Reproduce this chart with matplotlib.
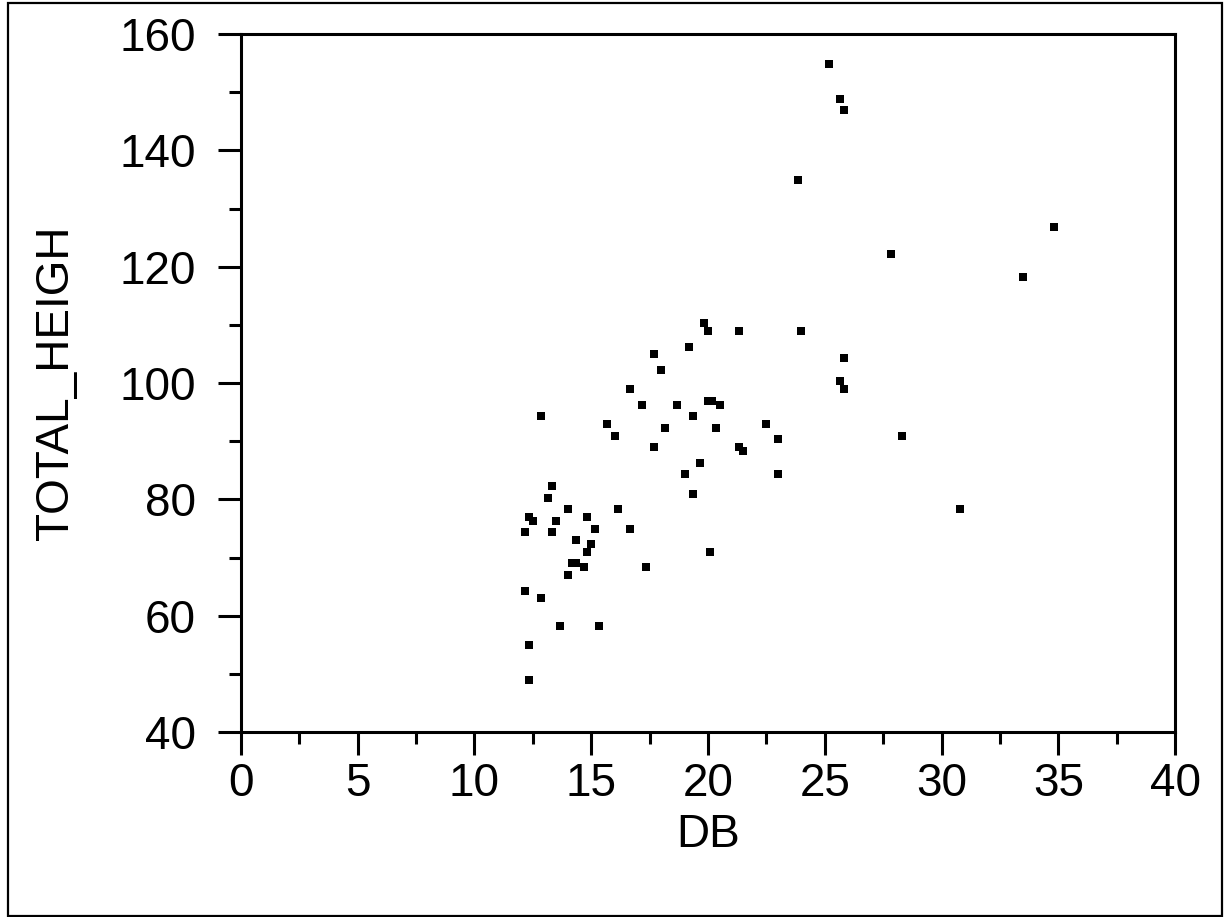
import matplotlib
matplotlib.use('Agg')
import matplotlib.pyplot as plt
from matplotlib.patches import Rectangle
from matplotlib.ticker import MultipleLocator

# DB vs TOTAL_HEIGH
db = [25.18, 25.65, 25.82, 23.85, 34.82, 27.84, 33.49, 19.83, 20.00, 21.33,
      23.98, 19.19, 17.69, 17.99, 25.82, 25.65, 25.82, 16.66, 17.17, 18.67,
      20.00, 20.17, 20.51, 19.36, 15.67, 18.16, 20.34, 22.48, 16.02, 23.00,
      28.31, 17.69, 21.33, 21.50, 19.66, 19.01, 23.00, 19.36, 12.85, 13.32,
      13.15, 14.00, 16.15, 12.33, 12.51, 13.49, 14.82, 12.16, 13.32, 15.16,
      16.66, 14.35, 14.99, 14.82, 14.18, 14.35, 14.69, 17.34, 14.00, 12.16,
      12.85, 13.66, 15.33, 12.33, 12.33, 30.79, 20.09]
total_heigh = [154.8, 148.8, 146.9, 134.9, 126.8, 122.2, 118.2, 110.3, 108.9, 108.9,
               108.9, 106.2, 105.0, 102.2, 104.3, 100.3, 99.0, 99.0, 96.2, 96.2,
               96.9, 96.9, 96.2, 94.3, 93.0, 92.3, 92.3, 93.0, 90.9, 90.4,
               90.9, 89.0, 89.0, 88.3, 86.3, 84.4, 84.4, 80.9, 94.3, 82.3,
               80.2, 78.3, 78.3, 77.0, 76.3, 76.3, 77.0, 74.4, 74.4, 74.9,
               74.9, 73.0, 72.3, 71.0, 69.1, 69.1, 68.4, 68.4, 67.0, 64.2,
               63.0, 58.2, 58.2, 55.0, 49.0, 78.3, 71.0]

plt.rcParams['font.family'] = ['Liberation Sans', 'DejaVu Sans']

fig = plt.figure(figsize=(12.25, 9.17), dpi=100)
ax = fig.add_axes([0.1967, 0.2017, 0.7625, 0.7612])

ax.plot(db, total_heigh, linestyle='none', marker='s', markersize=5.6,
        color='black', markeredgewidth=0)

ax.set_xlim(0, 40)
ax.set_ylim(40, 160)
ax.xaxis.set_major_locator(MultipleLocator(5))
ax.xaxis.set_minor_locator(MultipleLocator(2.5))
ax.yaxis.set_major_locator(MultipleLocator(20))
ax.yaxis.set_minor_locator(MultipleLocator(10))

for s in ax.spines.values():
    s.set_linewidth(2.2)
ax.tick_params(which='major', direction='out', length=16.5, width=2.2,
               labelsize=33, pad=5)
ax.tick_params(which='minor', direction='out', length=8.5, width=2.2)
ax.tick_params(axis='y', which='major', pad=16)

ax.set_xlabel('DB', fontsize=33, labelpad=5)
ax.set_ylabel('TOTAL_HEIGH', fontsize=33, labelpad=30)

# outer border around the whole picture
fig.patches.append(Rectangle((8 / 1225, 1 / 917), 1214 / 1225, 913 / 917,
                             transform=fig.transFigure, fill=False,
                             edgecolor='black', linewidth=1.6))

plt.savefig('out.png', dpi=100)
